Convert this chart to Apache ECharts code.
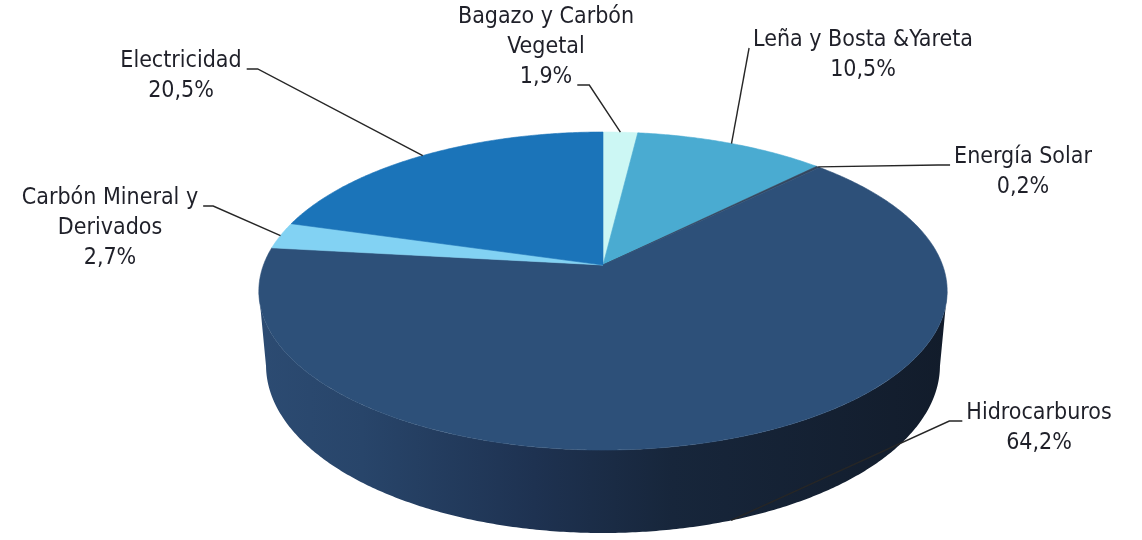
<!DOCTYPE html>
<html>
<head>
<meta charset="utf-8">
<script src="https://cdn.jsdelivr.net/npm/echarts@6/dist/echarts.min.js"></script>
<style>
  html, body { margin: 0; padding: 0; background: #ffffff; }
  #chart { width: 1142px; height: 540px; }
</style>
</head>
<body>
<div id="chart"></div>
<script>
// Participación de cada fuente en el consumo final de energía (%)
const categories = [
  'Bagazo y Carbón\nVegetal',
  'Leña y Bosta &Yareta',
  'Energía Solar',
  'Hidrocarburos',
  'Carbón Mineral y\nDerivados',
  'Electricidad'
];
const shares = [1.9, 10.5, 0.2, 64.2, 2.7, 20.5];

const sliceColors = ['#ccf7f4', '#4aabd1', '#34475f', '#2d5079', '#82d2f3', '#1b74b9'];

// Label placement: centre x of the text block, centre y of its first line,
// which line the leader line attaches to, the side it leaves from and its stub length.
const labelLayout = [
  { x: 546, y: 17, line: 2, side: 'right', stub: 12 },
  { x: 863, y: 40, line: 0, side: 'left', stub: 0 },
  { x: 1023, y: 157, line: 0, side: 'left', stub: 12 },
  { x: 1039, y: 413, line: 0, side: 'left', stub: 13 },
  { x: 110, y: 198, line: 0, side: 'right', stub: 10 },
  { x: 181, y: 61, line: 0, side: 'right', stub: 11 }
];

// Camera looking down on a unit-radius disc: screen position of the disc centre,
// focal length, camera distance, tilt and disc thickness (in radii)
const cam = { cx: 603, cy: 265, focal: 1846, dist: 5.437, tilt: Math.asin(0.4558), thick: 0.248 };

const FONT_SIZE = 23;
const FONT_FAMILY = '"DejaVu Sans Condensed", "DejaVu Sans", sans-serif';
const LINE_HEIGHT = 30;
const TEXT_COLOR = '#1f2029';
const LEADER_COLOR = '#262626';

const total = shares.reduce((a, b) => a + b, 0);
const startAngles = [];
const endAngles = [];
{
  let acc = 0;
  shares.forEach(v => {
    startAngles.push(acc / total * Math.PI * 2);
    acc += v;
    endAngles.push(acc / total * Math.PI * 2);
  });
}

// Point on the rim at angle theta (clockwise from the far side); lower rim when `down`
function rim(theta, down) {
  const X = Math.sin(theta);
  const Z = Math.cos(theta);
  const h = down ? cam.thick : 0;
  const s = Math.sin(cam.tilt), c = Math.cos(cam.tilt);
  const yc = Z * s - h * c;
  const zc = cam.dist + Z * c + h * s;
  return [cam.cx + cam.focal * X / zc, cam.cy - cam.focal * yc / zc];
}

function arcPoints(a0, a1, down) {
  const step = Math.PI / 360;
  const n = Math.max(2, Math.ceil((a1 - a0) / step));
  const pts = [];
  for (let i = 0; i <= n; i++) pts.push(rim(a0 + (a1 - a0) * i / n, down));
  return pts;
}

// Front part of the side wall is visible between these angles
const frontStart = Math.acos(-Math.cos(cam.tilt) / cam.dist);
const frontEnd = Math.PI * 2 - frontStart;

const measureCtx = document.createElement('canvas').getContext('2d');
measureCtx.font = FONT_SIZE + 'px ' + FONT_FAMILY;

function formatShare(v) {
  return v.toFixed(1).replace('.', ',') + '%';
}

function renderWall(params, api) {
  const i = params.dataIndex;
  const a0 = Math.max(startAngles[i], frontStart);
  const a1 = Math.min(endAngles[i], frontEnd);
  if (a1 <= a0) return null;
  const top = arcPoints(a0, a1, false);
  const bottom = arcPoints(a0, a1, true).reverse();
  return {
    type: 'polygon',
    shape: { points: top.concat(bottom) },
    style: {
      fill: new echarts.graphic.LinearGradient(0, 0, 1, 0, [
        { offset: 0, color: '#2c4b72' },
        { offset: 0.15, color: '#28456a' },
        { offset: 0.4, color: '#1e3251' },
        { offset: 0.6, color: '#17263b' },
        { offset: 1, color: '#121c2b' }
      ]),
      stroke: null
    },
    silent: true
  };
}

function renderFace(params, api) {
  const i = params.dataIndex;
  const pts = [[cam.cx, cam.cy]].concat(arcPoints(startAngles[i], endAngles[i], false));
  return {
    type: 'polygon',
    shape: { points: pts },
    style: { fill: sliceColors[i], stroke: sliceColors[i], lineWidth: 0.6 },
    silent: true
  };
}

function renderLabel(params, api) {
  const i = params.dataIndex;
  const value = api.value(0);
  const lay = labelLayout[i];
  const lines = categories[i].split('\n').concat([formatShare(value)]);
  const text = lines.join('\n');
  const top = lay.y - LINE_HEIGHT / 2;

  const lineY = lay.y + lay.line * LINE_HEIGHT + 8;
  const w = measureCtx.measureText(lines[lay.line]).width;
  let attach, elbow;
  if (lay.side === 'right') {
    attach = [lay.x + w / 2 + 5, lineY];
    elbow = [attach[0] + lay.stub, lineY];
  } else {
    attach = [lay.x - w / 2 - 4, lineY];
    elbow = [attach[0] - lay.stub, lineY];
  }
  const mid = (startAngles[i] + endAngles[i]) / 2;
  const start = rim(mid, Math.cos(mid) < 0);

  return {
    type: 'group',
    children: [
      {
        type: 'polyline',
        shape: { points: [start, elbow, attach] },
        style: { stroke: LEADER_COLOR, lineWidth: 1.4, fill: null },
        silent: true
      },
      {
        type: 'text',
        x: lay.x,
        y: top,
        style: {
          text: text,
          align: 'center',
          verticalAlign: 'top',
          fontSize: FONT_SIZE,
          fontFamily: FONT_FAMILY,
          lineHeight: LINE_HEIGHT,
          fill: TEXT_COLOR
        },
        silent: true
      }
    ]
  };
}

const seriesData = shares.map((v, i) => ({ name: categories[i], value: [v] }));

const chart = echarts.init(document.getElementById('chart'), null, { renderer: 'canvas' });
chart.setOption({
  backgroundColor: '#ffffff',
  animation: false,
  series: [
    { type: 'custom', coordinateSystem: 'none', z: 1, data: seriesData, renderItem: renderWall },
    { type: 'custom', coordinateSystem: 'none', z: 2, data: seriesData, renderItem: renderFace },
    { type: 'custom', coordinateSystem: 'none', z: 3, data: seriesData, renderItem: renderLabel }
  ]
});
</script>
</body>
</html>
